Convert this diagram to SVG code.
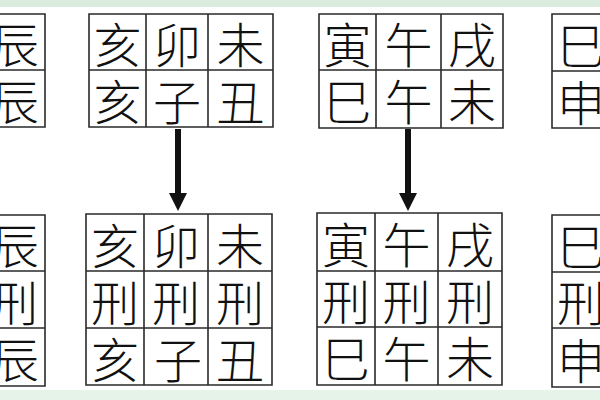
<svg xmlns="http://www.w3.org/2000/svg" width="600" height="400" viewBox="0 0 600 400">
<style>
.g{fill:none;stroke:#2a2a2a;stroke-width:1.6}
.t{font-family:"Noto Sans CJK SC","Noto Sans CJK JP",sans-serif;font-size:48px;font-weight:300;fill:#111;text-anchor:middle;dominant-baseline:central}
.arr{stroke:#111;stroke-width:6;fill:none}
.ah{fill:#111}
</style>
<rect x="0" y="0" width="600" height="400" fill="#ffffff"/>
<rect x="0" y="0" width="600" height="7" fill="#d9ecdd"/>
<rect x="0" y="390" width="600" height="10" fill="#e6f3e8"/>

<g id="grid-top-left">
<path class="g" d="M-20 14H45V127H-20M-20 70H45"/>
<text class="t" x="15" y="42">辰</text>
<text class="t" x="15" y="98.5">辰</text>
</g>

<g id="grid-top-1">
<path class="g" d="M89 14H273V127H89Z M89 70H273 M146 14V127 M208 14V127"/>
<text class="t" x="117.5" y="42">亥</text>
<text class="t" x="177" y="42">卯</text>
<text class="t" x="240.5" y="42">未</text>
<text class="t" x="117.5" y="98.5">亥</text>
<text class="t" x="177" y="98.5">子</text>
<text class="t" x="240.5" y="98.5">丑</text>
</g>

<g id="grid-top-2">
<path class="g" d="M319 14H503V128H319Z M319 70H503 M376 14V128 M441 14V128"/>
<text class="t" x="347.5" y="42">寅</text>
<text class="t" x="408.5" y="42">午</text>
<text class="t" x="472" y="42">戌</text>
<text class="t" x="347.5" y="99">巳</text>
<text class="t" x="408.5" y="99">午</text>
<text class="t" x="472" y="99">未</text>
</g>

<g id="grid-top-right">
<path class="g" d="M620 14H552V128H620 M552 71H620"/>
<text class="t" x="581" y="42.5">巳</text>
<text class="t" x="581" y="99.5">申</text>
</g>

<g id="grid-bottom-left">
<path class="g" d="M-20 215H45V386H-20 M-20 271H45 M-20 328H45"/>
<text class="t" x="15" y="243">辰</text>
<text class="t" x="14" y="299.5">刑</text>
<text class="t" x="15" y="357">辰</text>
</g>

<g id="grid-bottom-1">
<path class="g" d="M86 214H272V385H86Z M86 271H272 M86 328H272 M144 214V385 M208 214V385"/>
<text class="t" x="115" y="242.5">亥</text>
<text class="t" x="176" y="242.5">卯</text>
<text class="t" x="240" y="242.5">未</text>
<text class="t" x="115" y="299.5">刑</text>
<text class="t" x="176" y="299.5">刑</text>
<text class="t" x="240" y="299.5">刑</text>
<text class="t" x="115" y="356.5">亥</text>
<text class="t" x="178" y="356.5">子</text>
<text class="t" x="240" y="356.5">丑</text>
</g>

<g id="grid-bottom-2">
<path class="g" d="M317 213H502V385H317Z M317 271H502 M317 327H502 M375 213V385 M438 213V385"/>
<text class="t" x="346" y="242">寅</text>
<text class="t" x="406.5" y="242">午</text>
<text class="t" x="470" y="242">戌</text>
<text class="t" x="346" y="299">刑</text>
<text class="t" x="406.5" y="299">刑</text>
<text class="t" x="470" y="299">刑</text>
<text class="t" x="346" y="356">巳</text>
<text class="t" x="406.5" y="356">午</text>
<text class="t" x="470" y="356">未</text>
</g>

<g id="grid-bottom-right">
<path class="g" d="M620 215H552V387H620 M552 272H620 M552 328H620"/>
<text class="t" x="581" y="243.5">巳</text>
<text class="t" x="581" y="300">刑</text>
<text class="t" x="581" y="357.5">申</text>
</g>

<g id="connectors">
<line class="arr" x1="178" y1="129" x2="178" y2="196"/>
<polygon class="ah" points="169,193 187,193 178,211"/>
<line class="arr" x1="408" y1="129" x2="408" y2="196"/>
<polygon class="ah" points="399,193 417,193 408,211"/>
</g>
</svg>
